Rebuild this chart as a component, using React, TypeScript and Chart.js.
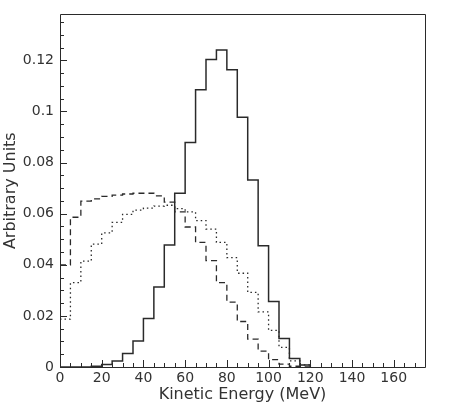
import { useEffect, useRef } from "react";
import { Chart, registerables } from "chart.js";

Chart.register(...registerables);

// Histogram bins (low edge, MeV), width 5 MeV
const binLowEdges = [0, 5, 10, 15, 20, 25, 30, 35, 40, 45, 50, 55, 60, 65, 70, 75, 80, 85, 90, 95, 100, 105, 110, 115];
const binWidth = 5;

// Solid histogram
const solidValues = [0, 0, 0, 0.0003, 0.001, 0.0023, 0.0053, 0.0102, 0.019, 0.0313, 0.0477, 0.068, 0.0879, 0.1085, 0.1203, 0.1241, 0.1163, 0.0977, 0.0732, 0.0475, 0.0256, 0.0112, 0.0033, 0.0008];
// Dashed histogram
const dashedValues = [0.04, 0.0586, 0.0649, 0.0658, 0.0668, 0.0673, 0.0677, 0.068, 0.068, 0.067, 0.0645, 0.0607, 0.0548, 0.0488, 0.0416, 0.033, 0.0254, 0.0178, 0.0109, 0.0062, 0.0029, 0.0011, 0.0003, 0];
// Dotted histogram
const dottedValues = [0.0187, 0.033, 0.0414, 0.0481, 0.0525, 0.0566, 0.0597, 0.0614, 0.0622, 0.063, 0.0633, 0.062, 0.0607, 0.0573, 0.054, 0.0488, 0.0428, 0.0367, 0.0292, 0.0216, 0.0143, 0.0077, 0.0024, 0.0008];

const xTickLabels = [0, 20, 40, 60, 80, 100, 120, 140, 160];
const yTickLabels = [0, 0.02, 0.04, 0.06, 0.08, 0.1, 0.12];
const xMin = 0;
const xMax = 175;
const yMin = 0;
const yMax = 0.138;
const xMinorStep = 5;
const yMinorStep = 0.005;

const xTitle = "Kinetic Energy (MeV)";
const yTitle = "Arbitrary Units";

const LINE = "#2a2a2a";
const FONT = "DejaVu Sans";

function toSteps(values: number[]) {
  const pts = binLowEdges.map((x, i) => ({ x, y: values[i] }));
  pts.push({ x: binLowEdges[binLowEdges.length - 1] + binWidth, y: 0 });
  return pts;
}

const framePlugin = {
  id: "frameTicks",
  afterDatasetsDraw(chart: any) {
    const { ctx, chartArea, scales } = chart;
    const { left, right, top, bottom } = chartArea;
    const xs = scales.x;
    const ys = scales.y;
    ctx.save();
    ctx.strokeStyle = LINE;
    ctx.lineWidth = 1;
    ctx.beginPath();
    ctx.rect(Math.round(left) + 0.5, Math.round(top) + 0.5, Math.round(right - left), Math.round(bottom - top));
    ctx.stroke();
    ctx.beginPath();
    for (let v = xMin; v <= xMax + 1e-9; v += xMinorStep) {
      const px = Math.round(xs.getPixelForValue(v)) + 0.5;
      const major = xTickLabels.includes(Math.round(v));
      const len = major ? 7 : 4;
      ctx.moveTo(px, bottom);
      ctx.lineTo(px, bottom - len);
    }
    for (let i = 0; yMin + i * yMinorStep <= yMax + 1e-9; i++) {
      const v = yMin + i * yMinorStep;
      const py = Math.round(ys.getPixelForValue(v)) + 0.5;
      const major = i % 4 === 0;
      const len = major ? 7 : 4;
      ctx.moveTo(left, py);
      ctx.lineTo(left + len, py);
    }
    ctx.stroke();
    ctx.restore();
  },
};

export default function App() {
  const canvasRef = useRef<HTMLCanvasElement | null>(null);

  useEffect(() => {
    document.body.style.margin = "0";
    const canvas = canvasRef.current;
    if (!canvas) return;
    Chart.defaults.font.family = FONT;
    Chart.defaults.color = "#333";

    const chart = new Chart(canvas, {
      type: "line",
      data: {
        datasets: [
          {
            label: "solid",
            data: toSteps(solidValues),
            stepped: "before",
            borderColor: LINE,
            borderWidth: 1.5,
            pointRadius: 0,
            fill: false,
          },
          {
            label: "dashed",
            data: toSteps(dashedValues),
            stepped: "before",
            borderColor: LINE,
            borderWidth: 1.3,
            borderDash: [6, 4],
            pointRadius: 0,
            fill: false,
          },
          {
            label: "dotted",
            data: toSteps(dottedValues),
            stepped: "before",
            borderColor: LINE,
            borderWidth: 1.3,
            borderDash: [1.5, 3],
            pointRadius: 0,
            fill: false,
          },
        ],
      },
      options: {
        animation: false,
        responsive: true,
        maintainAspectRatio: false,
        layout: { padding: { top: 3, right: 44, left: 0, bottom: 0 } },
        plugins: { legend: { display: false }, tooltip: { enabled: false } },
        scales: {
          x: {
            type: "linear",
            min: xMin,
            max: xMax,
            grid: { display: false, drawTicks: false },
            border: { display: false },
            ticks: {
              stepSize: 20,
              includeBounds: false,
              autoSkip: false,
              maxRotation: 0,
              padding: 3,
              color: "#333",
              font: { size: 14, family: FONT },
              callback: (v: any) => (xTickLabels.includes(Number(v)) ? String(v) : ""),
            },
            title: {
              display: true,
              text: xTitle,
              color: "#333",
              font: { size: 16, family: FONT },
              padding: { top: 0, bottom: 1 },
            },
            afterFit: (scale: any) => {
              scale.height = 38;
            },
          },
          y: {
            type: "linear",
            min: yMin,
            max: yMax,
            grid: { display: false, drawTicks: false },
            border: { display: false },
            ticks: {
              stepSize: 0.02,
              includeBounds: false,
              autoSkip: false,
              padding: 6,
              color: "#333",
              font: { size: 14, family: FONT },
              callback: (v: any) => {
                const n = parseFloat(Number(v).toFixed(4));
                return yTickLabels.includes(n) ? String(n) : "";
              },
            },
            title: {
              display: true,
              text: yTitle,
              color: "#333",
              font: { size: 16, family: FONT },
              padding: { top: 1, bottom: 0 },
            },
            afterFit: (scale: any) => {
              scale.width = 60;
            },
          },
        },
      },
      plugins: [framePlugin],
    });
    return () => chart.destroy();
  }, []);

  return (
    <div style={{ width: 469, height: 405, position: "relative" }}>
      <canvas ref={canvasRef} />
    </div>
  );
}
